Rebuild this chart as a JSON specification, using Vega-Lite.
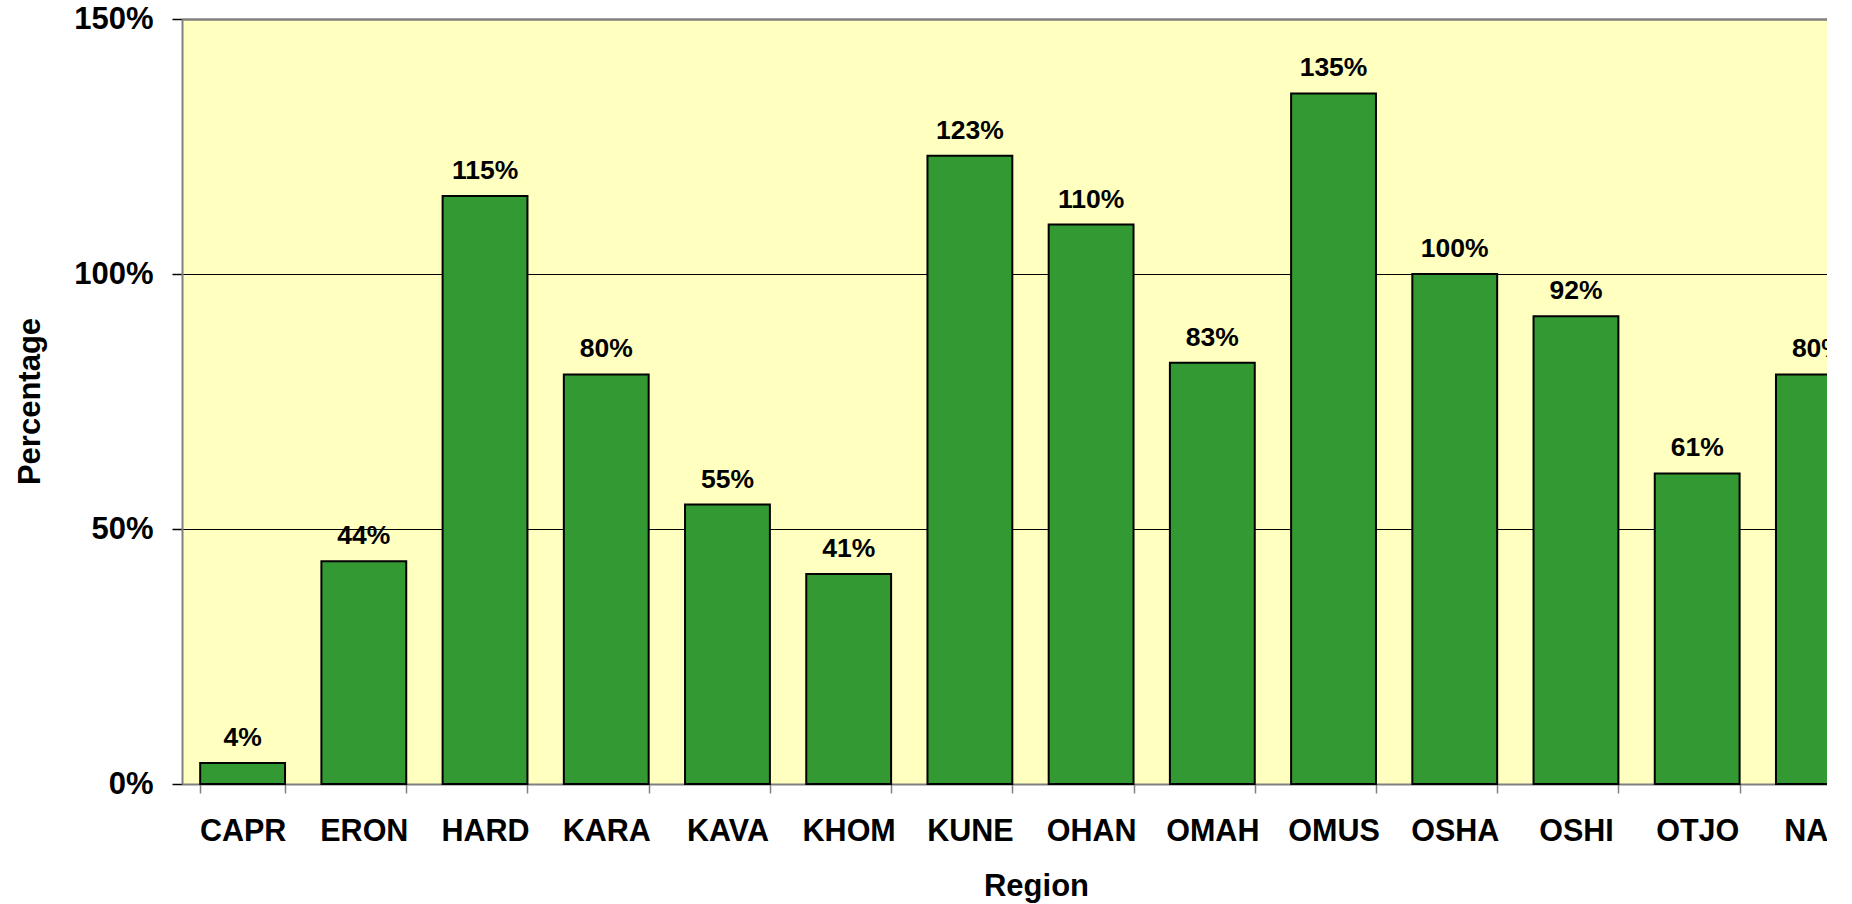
{
  "$schema": "https://vega.github.io/schema/vega-lite/v6.json",
  "autosize": {"type": "none"},
  "width": 1645,
  "height": 765,
  "padding": {"left": 182, "top": 19, "right": 0, "bottom": 120},
  "background": "white",
  "config": {"view": {"fill": "#FFFFC0", "stroke": null}, "font": "Liberation Sans"},
  "data": {
    "values": [
      {"region": "CAPR", "value": 0.041},
      {"region": "ERON", "value": 0.437},
      {"region": "HARD", "value": 1.153},
      {"region": "KARA", "value": 0.803},
      {"region": "KAVA", "value": 0.548},
      {"region": "KHOM", "value": 0.412},
      {"region": "KUNE", "value": 1.232},
      {"region": "OHAN", "value": 1.097},
      {"region": "OMAH", "value": 0.826},
      {"region": "OMUS", "value": 1.354},
      {"region": "OSHA", "value": 1.0},
      {"region": "OSHI", "value": 0.917},
      {"region": "OTJO", "value": 0.609},
      {"region": "NAM", "value": 0.803}
    ]
  },
  "encoding": {
    "x": {
      "field": "region",
      "type": "nominal",
      "sort": null,
      "scale": {"range": [0, 1697], "paddingInner": 0.3, "paddingOuter": 0.15},
      "axis": {
        "title": "Region",
        "labelAngle": 0,
        "labelFontSize": 30.5,
        "labelFontWeight": "bold",
        "labelColor": "#000000",
        "labelPadding": 23,
        "labelOverlap": false,
        "labelBound": false,
        "labelLimit": 0,
        "tickSize": 9,
        "tickColor": "#808080",
        "tickWidth": 1.5,
        "tickBand": "extent",
        "domainColor": "#808080",
        "domainWidth": 2,
        "grid": false,
        "titleFontSize": 31,
        "titleFontWeight": "bold",
        "titleColor": "#000000",
        "titleX": 854,
        "titleY": 111,
        "titleBaseline": "alphabetic",
        "titleAlign": "center"
      }
    },
    "y": {
      "field": "value",
      "type": "quantitative",
      "scale": {"domain": [0, 1.5], "nice": false, "zero": true},
      "axis": {
        "title": "Percentage",
        "format": ".0%",
        "values": [0, 0.5, 1, 1.5],
        "labelFontSize": 31,
        "labelFontWeight": "bold",
        "labelColor": "#000000",
        "labelPadding": 19,
        "tickSize": 10,
        "tickColor": "#000000",
        "tickWidth": 1.5,
        "domainColor": "#808080",
        "domainWidth": 2,
        "grid": true,
        "gridColor": {"condition": {"test": "datum.value >= 1.5", "value": "#808080"}, "value": "#000000"},
        "gridWidth": {"condition": {"test": "datum.value >= 1.5", "value": 2.5}, "value": 1},
        "titleFontSize": 31,
        "titleFontWeight": "bold",
        "titleColor": "#000000",
        "titleAngle": 270,
        "titleX": -143,
        "titleY": 382,
        "titleBaseline": "alphabetic",
        "titleAlign": "center"
      }
    }
  },
  "layer": [
    {
      "mark": {"type": "bar", "fill": "#339933", "stroke": "#000000", "strokeWidth": 2}
    },
    {
      "mark": {"type": "text", "baseline": "alphabetic", "dy": -17, "fontSize": 26.5, "fontWeight": "bold", "color": "#000000"},
      "encoding": {"text": {"field": "value", "type": "quantitative", "format": ".0%"}}
    }
  ]
}
